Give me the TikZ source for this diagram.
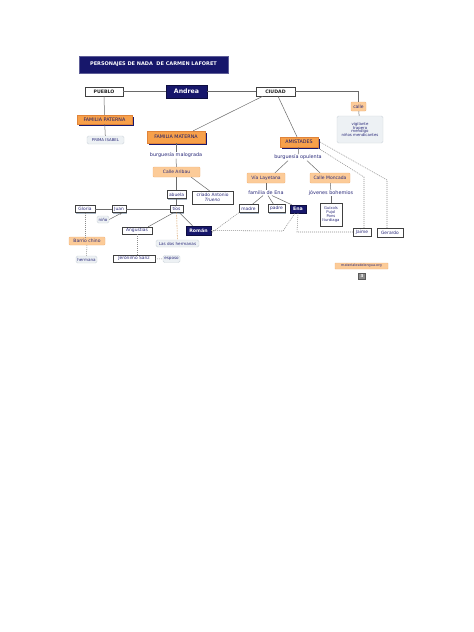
\documentclass[tikz,border=0pt]{standalone}
\usepackage{fontspec}
\setmainfont{DejaVu Sans}
\usetikzlibrary{shadows,arrows.meta}
\definecolor{navy}{HTML}{17176B}
\definecolor{navyT}{HTML}{2A2A7A}
\definecolor{orangeM}{HTML}{F7A04A}
\definecolor{orangeD}{HTML}{E0843A}
\definecolor{peach}{HTML}{FCCB98}
\definecolor{peachD}{HTML}{F3B67C}
\definecolor{grayL}{HTML}{EDF1F4}
\definecolor{grayB}{HTML}{CFD6DC}
\definecolor{shadowB}{HTML}{A9B6C4}
\definecolor{lineG}{HTML}{6A6A6A}
\definecolor{dotG}{HTML}{8C8C8C}
\definecolor{dashO}{HTML}{D9A56E}
\newcommand{\fs}[1]{\fontsize{#1}{#1}\selectfont}
\tikzset{
  x=1pt, y=-1pt,
  every node/.style={inner sep=0.5pt, align=center},
  wbox/.style={draw=black!75, fill=white, line width=0.45pt, font=\fs{4.4}, text=navyT,
    drop shadow={shadow xshift=1pt, shadow yshift=-1pt, fill=shadowB, opacity=1}},
  capbox/.style={wbox, font=\bfseries\fs{4.7}, text=black!85},
  obox/.style={fill=orangeM, draw=orangeD, line width=0.4pt, font=\fs{4.8}, text=navy,
    drop shadow={shadow xshift=1.6pt, shadow yshift=-1.6pt, fill=navy, opacity=1}},
  lobox/.style={fill=peach, draw=peachD, line width=0.4pt, rounded corners=1pt, font=\fs{4.5}, text=navyT},
  gbox/.style={fill=grayL, draw=grayB, line width=0.4pt, rounded corners=1.5pt, font=\fs{4.1}, text=navyT},
  nbox/.style={fill=navy, draw=navy!60!black, text=white, font=\bfseries\fs{4.7}},
  lbl/.style={text=navyT, font=\fs{4.9}},
  con/.style={draw=lineG, line width=0.5pt},
  dotl/.style={draw=dotG, line width=0.55pt, dash pattern=on 1pt off 1pt},
}
\begin{document}
\begin{tikzpicture}
\useasboundingbox[fill=white] (0,0) rectangle (474,632);

% title
\node[fill=navy, draw=navy!70!white, line width=0.6pt, minimum width=149pt, minimum height=17pt,
      text=white, font=\bfseries\fs{5}] (title) at (153.5,64.5) {PERSONAJES DE NADA \ DE CARMEN LAFORET};

% top row
\node[capbox, minimum width=38pt, minimum height=9pt] (pueblo) at (104,91.5) {PUEBLO};
\node[nbox, font=\bfseries\fs{6.2}, minimum width=41pt, minimum height=13pt,
      drop shadow={shadow xshift=1pt, shadow yshift=-1pt, fill=black!70, opacity=1}] (andrea) at (186.5,91.5) {Andrea};
\node[capbox, minimum width=39pt, minimum height=9pt] (ciudad) at (275.5,91.5) {CIUDAD};

\node[lobox, minimum width=15pt, minimum height=9pt] (calle) at (358.5,106.5) {calle};
\node[gbox, font=\fs{3.9}, minimum width=46pt, minimum height=27pt, align=center]
   (calledesc) at (360,129.5) {\baselineskip=5pt vigilante\\trapero\\mendigo\\niños mendicantes};

% paterna
\node[obox, minimum width=55pt, minimum height=9pt] (fpat) at (104.5,119.5) {FAMILIA PATERNA};
\node[gbox, font=\fs{3.9}, minimum width=37pt, minimum height=8pt] (prima) at (105.5,140) {PRIMA ISABEL};

% materna
\node[obox, minimum width=58pt, minimum height=12pt] (fmat) at (176,137) {FAMILIA MATERNA};
\node[lbl] (bmal) at (176,155.5) {burguesía malograda};
\node[lobox, minimum width=47pt, minimum height=10pt] (aribau) at (176.5,172) {Calle Aribau};
\node[wbox, minimum width=19pt, minimum height=8pt] (abuela) at (176.5,194.5) {abuela};
\node[wbox, minimum width=41pt, minimum height=13pt] (criado) at (212.5,197.5) {\baselineskip=5pt criado Antonio\\\textit{Trueno}};
\node[wbox, minimum width=13pt, minimum height=7pt] (tios) at (176.5,209) {tíos};
\node[wbox, minimum width=20pt, minimum height=7pt] (gloria) at (85,209) {Gloria};
\node[wbox, minimum width=14pt, minimum height=7pt] (juan) at (119,209) {Juan};
\node[gbox, minimum width=12pt, minimum height=7pt] (nino) at (103,219.5) {niño};
\node[wbox, minimum width=30pt, minimum height=7pt] (angustias) at (137,230.5) {Angustias};
\node[nbox, minimum width=25pt, minimum height=9pt] (roman) at (198.5,230.5) {Román};
\node[gbox, minimum width=43pt, minimum height=7pt] (hermanas) at (177.5,243.5) {Las dos hermanas};
\node[lobox, minimum width=36pt, minimum height=8pt] (barrio) at (87,241) {Barrio chino};
\node[gbox, minimum width=21pt, minimum height=7pt] (hermana) at (86.5,259.5) {hermana};
\node[wbox, minimum width=42pt, minimum height=7pt] (jeronimo) at (134,258.5) {Jerónimo Sanz};
\node[gbox, minimum width=17pt, minimum height=7pt] (esposo) at (171.5,259) {esposo};

% amistades
\node[obox, minimum width=38pt, minimum height=10pt] (amist) at (299,142) {AMISTADES};
\node[lbl] (bopu) at (298,157.5) {burguesía opulenta};
\node[lobox, minimum width=38pt, minimum height=10pt] (layetana) at (266,178) {Vía Layetana};
\node[lobox, minimum width=40pt, minimum height=10pt] (moncada) at (330,178) {Calle Moncada};
\node[lbl] (fena) at (266,193) {familia de Ena};
\node[lbl] (jboh) at (331,193) {jóvenes bohemios};
\node[wbox, minimum width=19pt, minimum height=8pt] (madre) at (248.5,208.5) {madre};
\node[wbox, minimum width=17pt, minimum height=8pt] (padre) at (276.5,208.5) {padre};
\node[nbox, minimum width=16pt, minimum height=8pt] (ena) at (298,209) {Ena};
\node[wbox, font=\fs{3.8}, minimum width=22pt, minimum height=23pt] (guix) at (331,214.5)
   {\baselineskip=4.8pt Guíxols\\Pujol\\Pons\\Iturdiaga};
\node[wbox, minimum width=18pt, minimum height=8pt] (jaime) at (362,232) {Jaime};
\node[wbox, minimum width=26pt, minimum height=9pt] (gerardo) at (390,232.5) {Gerardo};

% footer
\node[lobox, rounded corners=0.5pt, font=\fs{3.4}, minimum width=53pt, minimum height=6pt] (url) at (361.5,266) {materialesdelengua.org};
\node[fill=black!45, draw=black!65, line width=0.4pt, minimum width=7pt, minimum height=6pt,
      text=white, font=\bfseries\fs{4}] (icon) at (362,276.5) {3};

% solid connectors
\draw[con] (pueblo) -- (andrea);
\draw[con] (andrea) -- (ciudad);
\draw[con] (ciudad.east) -| (calle.north);
\draw[con] (calle) -- (calledesc);
\draw[con] (pueblo) -- (fpat);
\draw[con] (fpat) -- (prima);
\draw[con] ([xshift=7pt]ciudad.south west) -- ([xshift=-12pt]fmat.north east);
\draw[con] ([xshift=2.5pt]ciudad.south) -- ([xshift=-2pt]amist.north);
\draw[con] (fmat) -- (bmal);
\draw[con] (bmal) -- (aribau);
\draw[con] (aribau) -- (abuela);
\draw[con] ([xshift=-9pt]aribau.south east) -- ([xshift=-3pt]criado.north);
\draw[con] (abuela) -- (tios);
\draw[con] (gloria) -- (juan);
\draw[con] (juan) -- (tios);
\draw[con, -{Latex[length=2.2pt,width=2.2pt]}] (nino.east) -- ([xshift=3pt]juan.south);
\draw[con] ([xshift=-3pt]tios.south) -- ([xshift=-4pt]angustias.north east);
\draw[con] ([xshift=3pt]tios.south) -- ([xshift=-6pt]roman.north);
\draw[con] (amist) -- (bopu);
\draw[con] ([xshift=-10pt]bopu.south) -- ([xshift=9pt]layetana.north);
\draw[con] ([xshift=9pt]bopu.south) -- ([xshift=-10pt]moncada.north);
\draw[con] (layetana) -- (fena);
\draw[con] ([xshift=-3pt]fena.south) -- ([xshift=4pt]madre.north);
\draw[con] ([xshift=2pt]fena.south) -- ([xshift=-3pt]padre.north);
\draw[con] ([xshift=6pt]fena.south) -- ([xshift=2pt]ena.north west);
\draw[con] (moncada) -- (jboh);
\draw[con] (jboh) -- (guix);

% dotted / dashed connectors
\draw[dotl] (gloria.south) -- (gloria.south |- barrio.north);
\draw[dotl] (barrio) -- (hermana);
\draw[dotl] (angustias) -- (angustias |- jeronimo.north);
\draw[dotl] (jeronimo) -- (esposo);
\draw[draw=dashO, line width=0.55pt, dash pattern=on 1.5pt off 1pt] (tios) -- (hermanas);
\coordinate (rk) at (283,231);
\draw[dotl] (roman.east) -- (rk) -- ([xshift=-3pt]ena.south);
\draw[dotl] (madre.south west) -- ([yshift=-2.5pt]roman.east);
\coordinate (ek) at (297,232);
\draw[dotl] (ena.south) -- (ek) -- (jaime.west);
\coordinate (aj) at (364,177);
\draw[dotl] ([yshift=-1pt]amist.south east) -- (aj) -- (jaime.north -| aj);
\coordinate (ag) at (387,180);
\draw[dotl] ([yshift=1pt]amist.east) -- (ag) -- (gerardo.north -| ag);
\end{tikzpicture}
\end{document}
